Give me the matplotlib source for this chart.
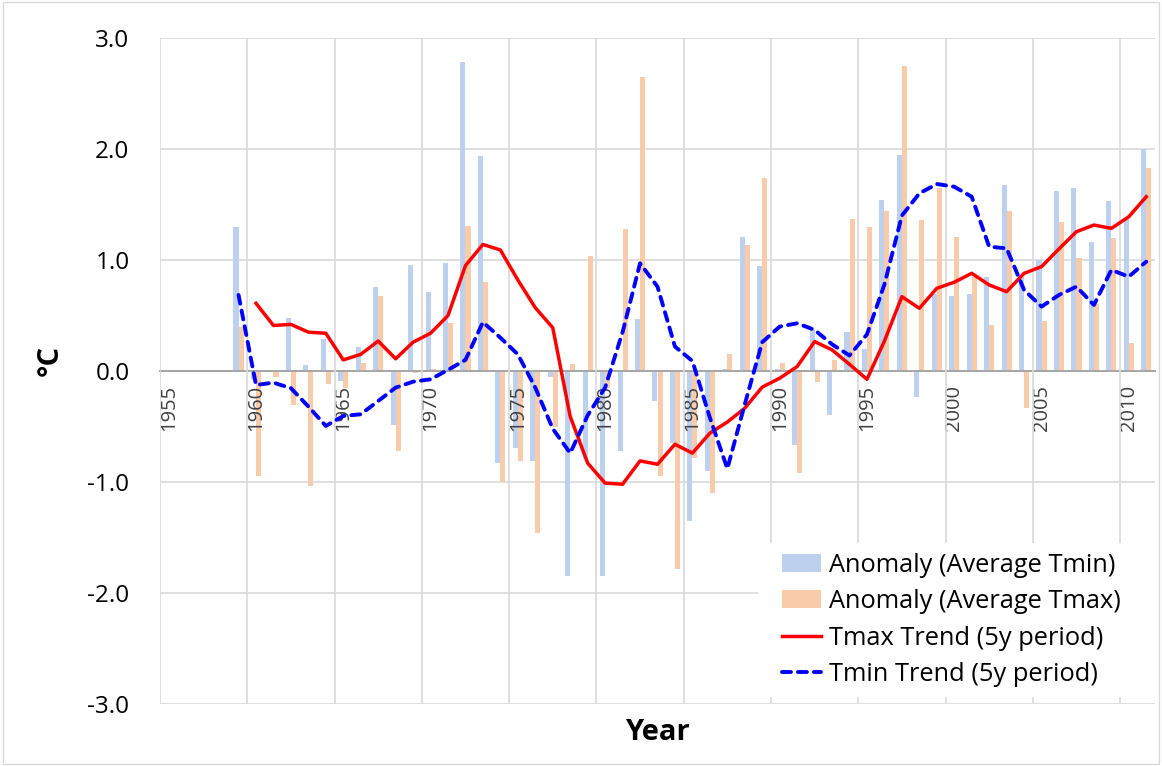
import matplotlib
matplotlib.use("Agg")
import matplotlib.pyplot as plt
from matplotlib.patches import Patch, Rectangle
from matplotlib.lines import Line2D

plt.rcParams['font.family'] = ['Open Sans', 'DejaVu Sans']
plt.rcParams['axes.unicode_minus'] = False

# ---------------- data ----------------
years = list(range(1959, 2012))
tmin_anom = [1.30, -0.07, 0.00, 0.48, 0.05, 0.285, -0.09, 0.22, 0.755, -0.49,
             0.955, 0.715, 0.975, 2.78, 1.94, -0.83, -0.69, -0.81, -0.055, -1.85,
             -0.78, -1.85, -0.72, 0.47, -0.27, -0.65, -1.35, -0.90, 0.02, 1.21,
             0.95, 0.02, -0.67, 0.365, -0.395, 0.35, 0.20, 1.54, 1.95, -0.23,
             0.69, 0.68, 0.69, 0.85, 1.68, 0.85, 1.00, 1.62, 1.65, 1.16,
             1.53, 1.37, 2.00]
tmax_anom = [0.40, -0.945, -0.055, -0.31, -1.035, -0.12, -0.15, 0.075, 0.68, -0.72,
             -0.02, 0.02, 0.43, 1.31, 0.80, -1.00, -0.815, -1.46, -0.50, 0.06,
             1.035, -0.15, 1.28, 2.65, -0.945, -1.78, -0.78, -1.10, 0.15, 1.135,
             1.74, 0.075, -0.92, -0.10, 0.10, 1.37, 1.295, 1.44, 2.75, 1.36,
             1.65, 1.21, 0.85, 0.415, 1.445, -0.33, 0.45, 1.34, 1.02, 0.60,
             1.20, 0.25, 1.83]

tmax_trend_years = list(range(1960, 2012))
tmax_trend = [0.61, 0.41, 0.42, 0.35, 0.34, 0.10, 0.15, 0.27, 0.11, 0.26,
              0.34, 0.50, 0.95, 1.14, 1.09, 0.82, 0.57, 0.39, -0.41, -0.83,
              -1.01, -1.02, -0.81, -0.84, -0.66, -0.74, -0.56, -0.46, -0.335, -0.145,
              -0.065, 0.04, 0.265, 0.19, 0.06, -0.075, 0.27, 0.67, 0.565, 0.745,
              0.80, 0.88, 0.775, 0.715, 0.88, 0.94, 1.10, 1.255, 1.315, 1.285,
              1.39, 1.57]

tmin_trend_years = list(range(1959, 2012))
tmin_trend = [0.685, -0.126, -0.105, -0.155, -0.32, -0.495, -0.405, -0.39, -0.27, -0.15,
              -0.096, -0.075, 0.01, 0.10, 0.44, 0.30, 0.15, -0.15, -0.52, -0.74,
              -0.40, -0.15, 0.35, 0.97, 0.76, 0.22, 0.09, -0.42, -0.88, -0.30,
              0.26, 0.40, 0.43, 0.37, 0.24, 0.14, 0.33, 0.78, 1.40, 1.60,
              1.685, 1.66, 1.57, 1.12, 1.105, 0.73, 0.58, 0.685, 0.76, 0.595,
              0.91, 0.85, 0.985]

y_ticks = [3.0, 2.0, 1.0, 0.0, -1.0, -2.0, -3.0]
x_tick_years = [1955, 1960, 1965, 1970, 1975, 1980, 1985, 1990, 1995, 2000, 2005, 2010]

series_labels = ["Anomaly (Average Tmin)", "Anomaly (Average Tmax)",
                 "Tmax Trend (5y period)", "Tmin Trend (5y period)"]

# ---------------- style ----------------
C_BLUE_BAR = '#bdd1ee'
C_ORANGE_BAR = '#f8cbab'
C_RED = '#ff0000'
C_BLUE = '#0000ff'
C_GRID = '#d9d9d9'

W, H = 1162, 766
fig = plt.figure(figsize=(W / 100, H / 100), dpi=100)
ax = fig.add_axes([160 / W, 1 - 704 / H, (1155 - 160) / W, (704 - 38) / H])

bw = 0.29
ax.bar([y - bw / 2 for y in years], tmin_anom, width=bw, color=C_BLUE_BAR, zorder=1)
ax.bar([y + bw / 2 for y in years], tmax_anom, width=bw, color=C_ORANGE_BAR, zorder=1)

ax.plot(tmax_trend_years, tmax_trend, color=C_RED, lw=2.5, zorder=3,
        solid_joinstyle='round')
ax.plot(tmin_trend_years, tmin_trend, color=C_BLUE, lw=2.8, zorder=3,
        linestyle=(0, (2.3, 1.8)), dash_capstyle='round')

ax.set_xlim(1954.5, 2011.5)
ax.set_ylim(-3, 3)
ax.set_yticks(y_ticks)
ax.set_yticklabels([f"{v:.1f}" for v in y_ticks])
ax.set_xticks(x_tick_years)
ax.set_xticklabels([str(y) for y in x_tick_years])
ax.set_xticks([y - 0.5 for y in x_tick_years], minor=True)

ax.set_axisbelow(True)
ax.grid(axis='y', which='major', color=C_GRID, lw=1.2)
ax.grid(axis='x', which='minor', color=C_GRID, lw=1.2)
ax.grid(axis='x', which='major', visible=False)
# x tick labels (and vertical grid) above the bars, below the trend lines
ax.xaxis.set_zorder(2)

for s in ['top', 'right', 'left']:
    ax.spines[s].set_visible(False)
ax.spines['bottom'].set_position(('data', 0))
ax.spines['bottom'].set_color('#a6a6a6')
ax.spines['bottom'].set_linewidth(1.4)
ax.spines['bottom'].set_zorder(2)

ax.tick_params(axis='x', which='both', length=0, pad=10, labelsize=14.5,
               labelcolor='#404040', labelrotation=90)
ax.tick_params(axis='y', length=0, pad=22, labelsize=17.5, labelcolor='#000000')
for lbl in ax.get_xticklabels():
    lbl.set_rotation(90)
    lbl.set_verticalalignment('top')
    lbl.set_horizontalalignment('center')

fig.text(657 / W, 1 - 733 / H, 'Year', ha='center', va='center',
         fontsize=21, fontweight='bold')
fig.text(50 / W, 1 - 360 / H, '°C', ha='center', va='center', rotation=90,
         fontsize=21, fontweight='bold')

# legend background
ax.add_patch(Rectangle((758 / W, 1 - 697 / H), (1157 - 758) / W, (697 - 543) / H,
                       transform=fig.transFigure, facecolor='white', edgecolor='none',
                       zorder=2.5, clip_on=False))

handles = [Patch(facecolor=C_BLUE_BAR, edgecolor='none'),
           Patch(facecolor=C_ORANGE_BAR, edgecolor='none'),
           Line2D([], [], color=C_RED, lw=2.5),
           Line2D([], [], color=C_BLUE, lw=2.8, linestyle=(0, (2.3, 1.8)),
                  dash_capstyle='round')]
leg = ax.legend(handles, series_labels, loc='upper left',
                bbox_to_anchor=(769 / W, 1 - 540 / H), bbox_transform=fig.transFigure,
                frameon=False, fontsize=18.3, handlelength=1.55, handleheight=0.7,
                handletextpad=0.3, labelspacing=0.45, borderpad=0.0)
leg.set_zorder(5)

# chart border
fig.patches.append(Rectangle((0.003, 0.003), 0.994, 0.994, transform=fig.transFigure,
                             facecolor='none', edgecolor='#d9d9d9', lw=1.0))

fig.savefig('out.png', dpi=100)
